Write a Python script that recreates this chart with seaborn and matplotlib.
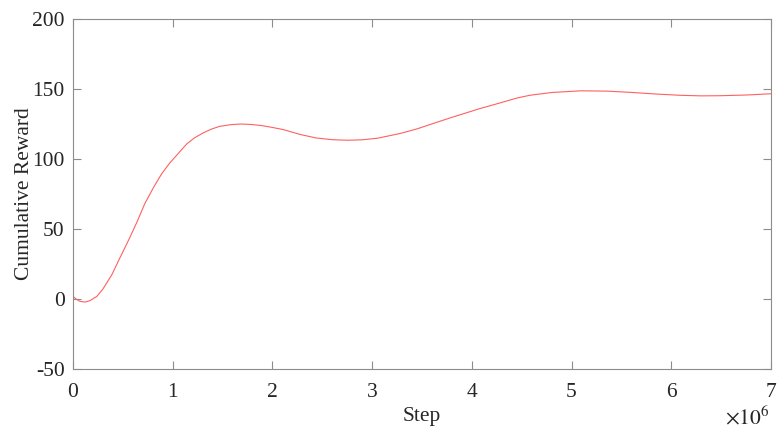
import seaborn as sns
import pandas as pd
import matplotlib.pyplot as plt
from matplotlib.ticker import FuncFormatter

# values (step in units of 1e6)
step_m = [0, 0.04, 0.07, 0.12, 0.17, 0.24, 0.3, 0.39, 0.47, 0.56, 0.64, 0.72,
          0.81, 0.89, 0.97, 1.06, 1.14, 1.22, 1.31, 1.39, 1.47, 1.58, 1.68, 1.78,
          1.88, 1.98, 2.11, 2.28, 2.44, 2.6, 2.75, 2.9, 3.05, 3.28, 3.45, 3.61,
          3.78, 3.95, 4.08, 4.28, 4.45, 4.58, 4.8, 5.09, 5.35, 5.59, 5.85, 6.09,
          6.3, 6.49, 6.75, 7.0]
reward = [1.9, -0.5, -1.7, -2.2, -1.2, 1.9, 7.1, 17.4, 29.3, 42.4, 54.7, 68.1,
          80, 89.5, 97.1, 104.3, 110.7, 115.2, 118.8, 121.4, 123.3, 124.5, 125, 124.7,
          124, 122.8, 121, 117.5, 115, 113.8, 113.4, 113.7, 114.8, 118.2, 121.5, 125.3,
          129.3, 133.1, 136, 140, 143.5, 145.5, 147.5, 148.7, 148.5, 147.6, 146.4, 145.5,
          145.1, 145.2, 145.7, 146.6]

df = pd.DataFrame({'Step': [s * 1e6 for s in step_m], 'Cumulative Reward': reward})

sns.set_theme(style="ticks")
plt.rcParams['font.family'] = ['Liberation Serif', 'DejaVu Serif']
plt.rcParams['mathtext.fontset'] = 'stix'
plt.rcParams['axes.unicode_minus'] = False

fs = 15.5
txt = '#262626'

fig = plt.figure(figsize=(7.84, 4.4), dpi=100)
ax = fig.add_axes([0.0931, 0.1614, 0.8903, 0.7954])

sns.lineplot(data=df, x='Step', y='Cumulative Reward', color='#ff6060', linewidth=0.8, ax=ax)

ax.set_xlim(0, 7e6)
ax.set_ylim(-50, 200)
ax.set_yticks(range(-50, 201, 50))
ax.set_xticks([i * 1e6 for i in range(8)])
ax.xaxis.set_major_formatter(FuncFormatter(lambda v, p: '%g' % (v / 1e6)))

for sp in ax.spines.values():
    sp.set_visible(True)
    sp.set_color('#8c8c8c')
    sp.set_linewidth(0.8)
ax.tick_params(direction='in', length=6, width=0.8, color='#8c8c8c',
               labelsize=fs, labelcolor=txt, top=True, right=True)
ax.tick_params(axis='x', pad=10)
ax.tick_params(axis='y', pad=6)

ax.set_xlabel('Step', fontsize=fs, color=txt, labelpad=4)
ax.set_ylabel('Cumulative Reward', fontsize=fs, color=txt, labelpad=-1)

# multiplier for the x axis, MATLAB style
fig.text(0.982, 0.025, r'$\times10^{6}$', ha='right', va='bottom', fontsize=fs, color=txt)

fig.savefig('out.png', dpi=100)
